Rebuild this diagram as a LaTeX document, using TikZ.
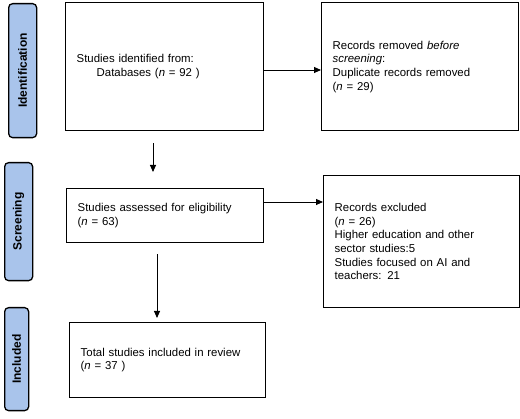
\documentclass[tikz,border=0pt]{standalone}
\usepackage{fontspec}
\setmainfont{Liberation Sans}
\usetikzlibrary{arrows.meta}

\definecolor{tabblue}{HTML}{A9C4EB}

\begin{document}
\begin{tikzpicture}[x=1pt, y=-1pt, >={Triangle[width=6pt,length=7pt]},
    box/.style={draw, line width=1.4pt, anchor=north west, align=left,
        inner xsep=11pt, inner ysep=0pt, font=\fontsize{11.4}{13.6}\selectfont},
    phase/.style={draw, line width=1.3pt, fill=tabblue, rounded corners=4pt,
        anchor=north west, inner sep=0pt},
    phaselabel/.style={rotate=90, font=\fontsize{12}{14}\selectfont\bfseries},
    link/.style={->, line width=0.9pt}]
    % 余白を含めた外枠
    \useasboundingbox (0,0) rectangle (520,419);

    % 段階のタブ
    \node[phase, minimum width=28pt, minimum height=134pt] (tabid) at (8,3) {};
    \node[phaselabel] at (tabid.center) {Identification};
    \node[phase, minimum width=28pt, minimum height=118pt] (tabscr) at (4,162) {};
    \node[phaselabel] at (tabscr.center) {Screening};
    \node[phase, minimum width=24pt, minimum height=103pt] (tabinc) at (4,307) {};
    \node[phaselabel] at (tabinc.center) {Included};

    % 各ボックス
    \node[box, minimum width=198pt, minimum height=128pt, text width=176pt] (ident) at (65,2)
        {Studies identified from:\\\hspace*{20pt}Databases (\textit{n} = 92 )\\[8pt]};
    \node[box, minimum width=197pt, minimum height=128pt, text width=175pt] (removed) at (321,2)
        {Records removed \textit{before}\\\textit{screening}:\\Duplicate records removed\\(\textit{n} = 29)\\[8pt]};
    \node[box, minimum width=197pt, minimum height=54pt, text width=175pt] (assess) at (66,188)
        {Studies assessed for eligibility\\(\textit{n} = 63)};
    \node[box, minimum width=196pt, minimum height=132pt, text width=174pt] (excl) at (323,175)
        {Records excluded\\(\textit{n} = 26)\\Higher education and other\\sector studies:5\\Studies focused on AI and\\teachers: 21};
    \node[box, minimum width=196pt, minimum height=75pt, text width=174pt] (incl) at (69,322)
        {Total studies included in review\\(\textit{n} = 37 )\\[8pt]};

    % 矢印
    \draw[link] (ident.east |- 0,70) -- (removed.west |- 0,70);
    \draw[link] (assess.east |- 0,202) -- (excl.west |- 0,202);
    \draw[link, shorten <=12pt, shorten >=16pt] (153,0 |- ident.south) -- (153,0 |- assess.north);
    \draw[link, shorten <=11pt, shorten >=4pt] (157,0 |- assess.south) -- (157,0 |- incl.north);
\end{tikzpicture}
\end{document}
